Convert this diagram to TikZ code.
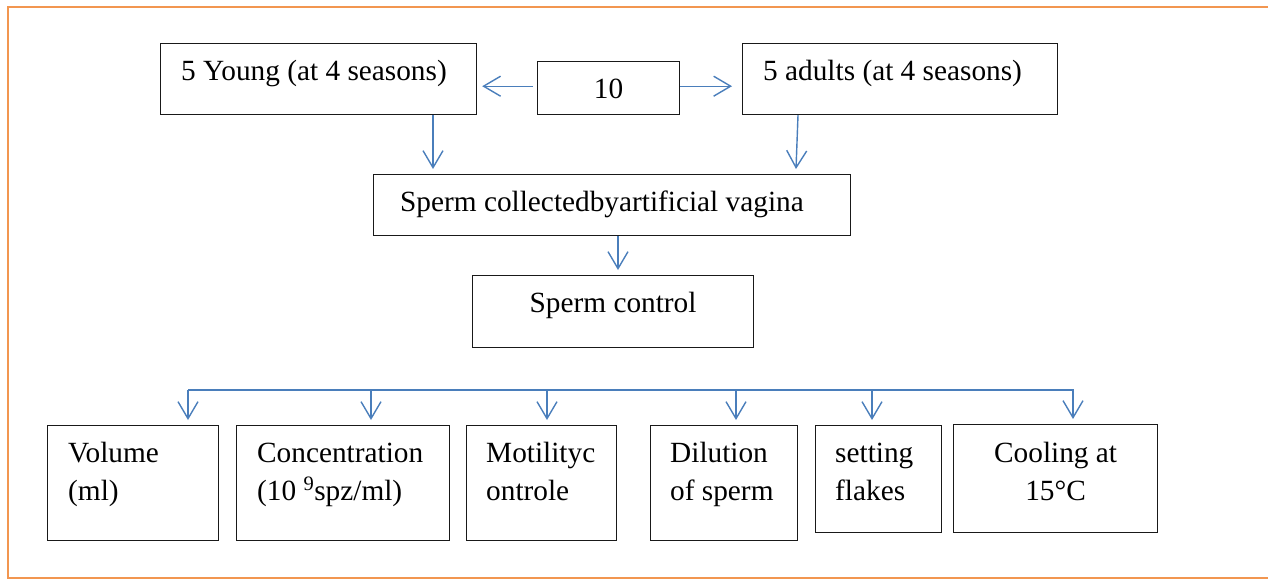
\documentclass[tikz,border=0pt]{standalone}
\usepackage{fontspec}
\setmainfont{Liberation Serif}[Ligatures={TeX,NoCommon}]
\usetikzlibrary{arrows.meta}
\definecolor{arrowblue}{RGB}{74,126,187}
\definecolor{frameorange}{RGB}{242,150,80}
\begin{document}
\begin{tikzpicture}[x=1pt,y=-1pt,
  box/.style={draw=black!90,line width=1.2pt,inner sep=0pt,anchor=north west},
  txt/.style={inner sep=0pt,font=\fontsize{29.3}{38}\selectfont},
  link/.style={draw=arrowblue,line width=1.4pt},
  arr/.style={link,-{Straight Barb[length=17pt,width=20pt]}}]
\useasboundingbox (0,0) rectangle (1268,579);
% frame
\draw[frameorange,line width=1.5pt] (1270,7) -- (8,7) -- (8,578) -- (1270,578);
% top row
\node[box,minimum width=316pt,minimum height=71pt] (young) at (160,43) {};
\node[box,minimum width=142pt,minimum height=53pt] (ten) at (537,61) {};
\node[box,minimum width=315pt,minimum height=71pt] (adults) at (742,43) {};
\node[txt,anchor=base west] (youngt) at ([xshift=21pt,yshift=-37pt]young.north west) {5 Young (at 4 seasons)};
\node[txt,anchor=base] (tent) at ([yshift=-37pt]ten.north) {10};
\node[txt,anchor=base west] (adultst) at ([xshift=21pt,yshift=-37pt]adults.north west) {5 adults (at 4 seasons)};
% collection
\node[box,minimum width=477pt,minimum height=61pt] (coll) at (373,174) {};
\node[txt,anchor=base west] (collt) at ([xshift=27pt,yshift=-37pt]coll.north west) {Sperm collectedbyartificial vagina};
% control
\node[box,minimum width=281pt,minimum height=72pt] (ctrl) at (472,275) {};
\node[txt,anchor=base] (ctrlt) at ([yshift=-37pt]ctrl.north) {Sperm control};
% bottom row
\node[box,minimum width=171pt,minimum height=115pt] (vol) at (47,425) {};
\node[box,minimum width=213pt,minimum height=115pt] (conc) at (236,425) {};
\node[box,minimum width=150pt,minimum height=115pt] (mot) at (466,425) {};
\node[box,minimum width=147pt,minimum height=115pt] (dil) at (650,425) {};
\node[box,minimum width=126pt,minimum height=107pt] (set) at (815,425) {};
\node[box,minimum width=204pt,minimum height=108pt] (cool) at (953,424) {};
\node[txt,anchor=base west] (volt) at ([xshift=21pt,yshift=-37pt]vol.north west) {\begin{tabular}[t]{@{}l@{}}Volume\\(ml)\end{tabular}};
\node[txt,anchor=base west] (conct) at ([xshift=21pt,yshift=-37pt]conc.north west) {\begin{tabular}[t]{@{}l@{}}Concentration\\(10 \textsuperscript{9}spz/ml)\end{tabular}};
\node[txt,anchor=base west] (mott) at ([xshift=20pt,yshift=-37pt]mot.north west) {\begin{tabular}[t]{@{}l@{}}Motilityc\\ontrole\end{tabular}};
\node[txt,anchor=base west] (dilt) at ([xshift=20pt,yshift=-37pt]dil.north west) {\begin{tabular}[t]{@{}l@{}}Dilution\\of sperm\end{tabular}};
\node[txt,anchor=base west] (sett) at ([xshift=20pt,yshift=-37pt]set.north west) {\begin{tabular}[t]{@{}l@{}}setting\\flakes\end{tabular}};
\node[txt,anchor=base] (coolt) at ([yshift=-38pt]cool.north) {\begin{tabular}[t]{@{}c@{}}Cooling at\\15°C\end{tabular}};
% connectors top
\draw[arr] ([xshift=-4pt,yshift=29pt]ten.south west) -- ([xshift=5pt,yshift=29pt]young.south east);
\draw[arr] ([yshift=29pt]ten.south east) -- ([xshift=-10pt,yshift=29pt]adults.south west);
\draw[arr] ([xshift=273pt]young.south west) -- ([xshift=60pt,yshift=5pt]coll.north west);
\draw[arr] ([xshift=56pt]adults.south west) -- ([xshift=423pt,yshift=5pt]coll.north west);
\draw[arr] ([xshift=245pt]coll.south west) -- ([xshift=146pt,yshift=5pt]ctrl.north west);
% bus
\coordinate (bus) at (0,390);
\coordinate (tvol) at ([xshift=141pt,yshift=5pt]vol.north west);
\coordinate (tconc) at ([xshift=135pt,yshift=5pt]conc.north west);
\coordinate (tmot) at ([xshift=81pt,yshift=5pt]mot.north west);
\coordinate (tdil) at ([xshift=86pt,yshift=5pt]dil.north west);
\coordinate (tset) at ([xshift=57pt,yshift=5pt]set.north west);
\coordinate (tcool) at ([xshift=120pt,yshift=5pt]cool.north west);
\draw[arr] (tvol|-bus) -- (tcool|-bus) -- (tcool);
\draw[arr] (tvol|-bus) -- (tvol);
\draw[arr] (tconc|-bus) -- (tconc);
\draw[arr] (tmot|-bus) -- (tmot);
\draw[arr] (tdil|-bus) -- (tdil);
\draw[arr] (tset|-bus) -- (tset);
\end{tikzpicture}
\end{document}
